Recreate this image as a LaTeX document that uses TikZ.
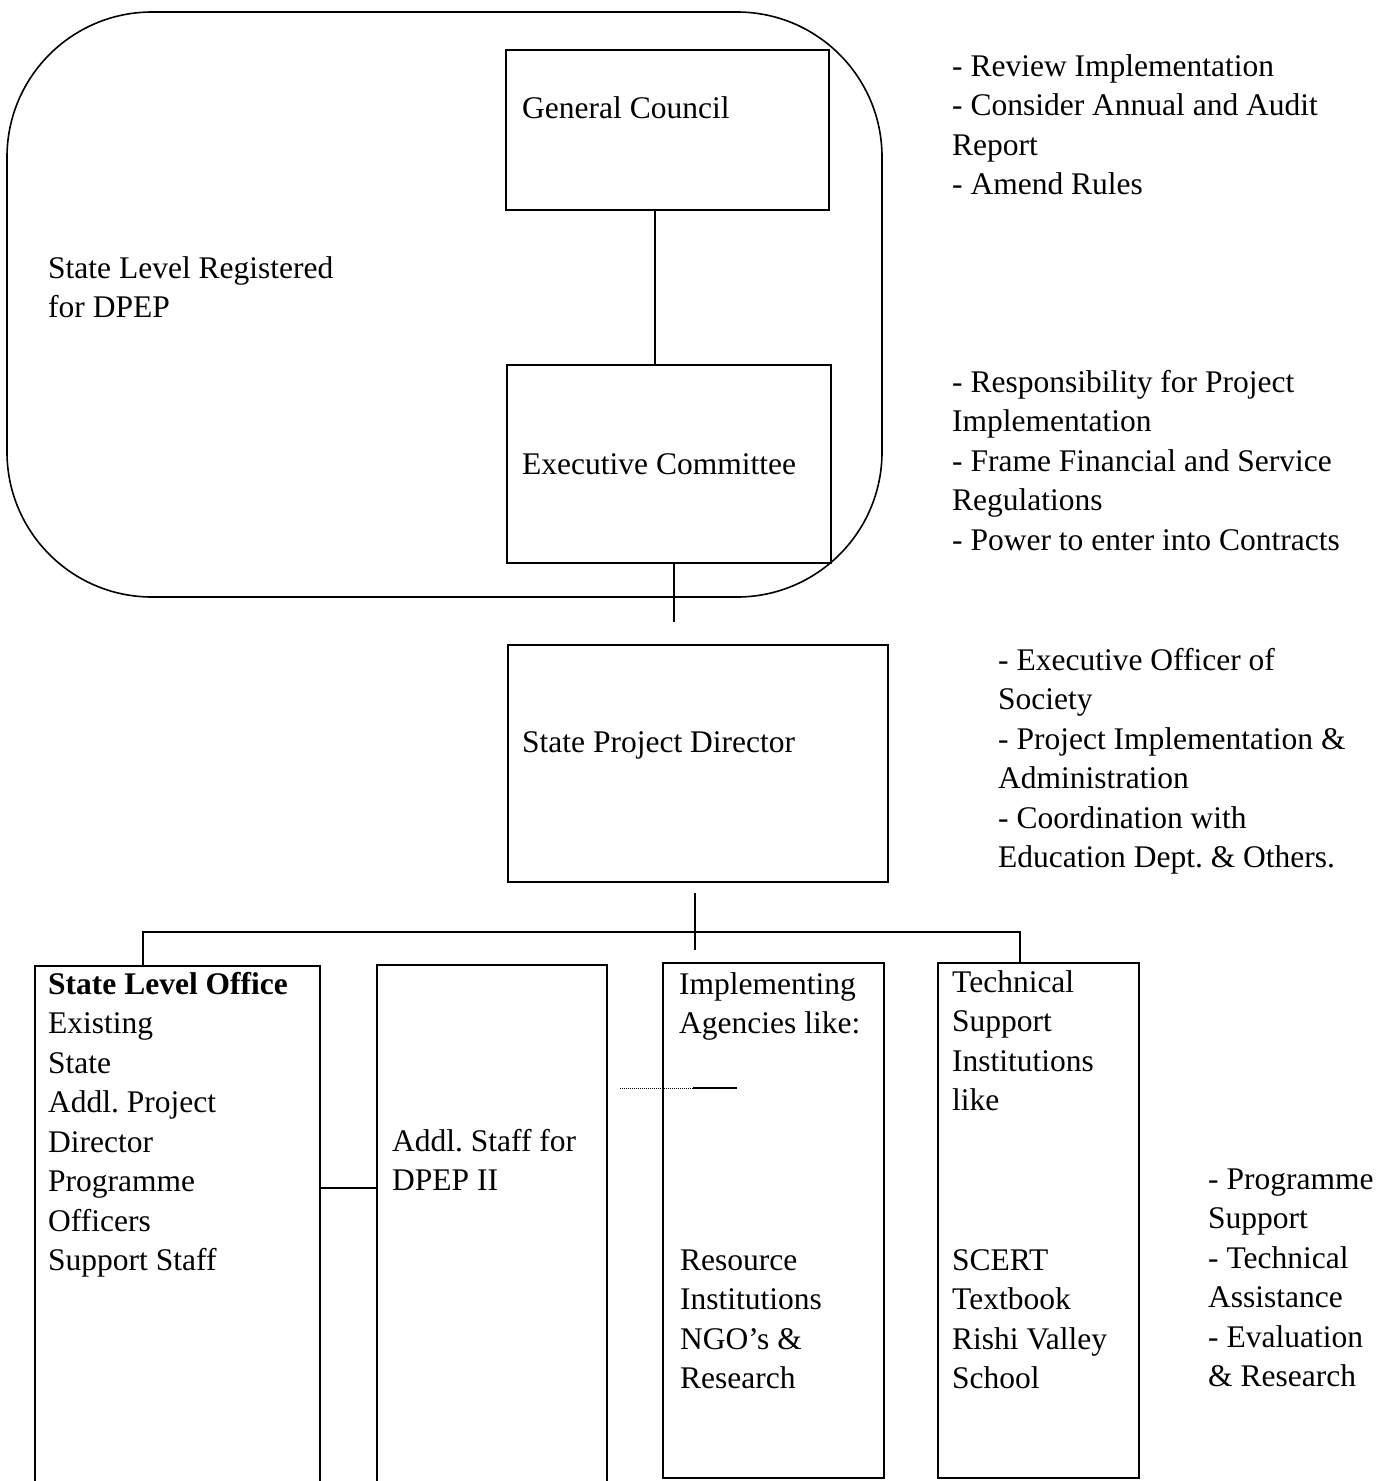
\documentclass[tikz,border=0pt]{standalone}
\usepackage{fontspec}
\setmainfont{Liberation Serif}
\newcommand{\mlines}[1]{\begin{tabular}[t]{@{}l@{}}#1\end{tabular}}
\frenchspacing
\begin{document}
\begin{tikzpicture}[x=1pt,y=-1pt,
  every node/.style={font=\fontsize{31.5}{39.5}\selectfont\frenchspacing},
  box/.style={draw,line width=1.6pt,rectangle,inner sep=0pt},
  txt/.style={anchor=base west,inner sep=0pt},
  conn/.style={line width=1.8pt}]
\useasboundingbox (0,0) rectangle (1394,1481);

% society outline
\node[draw,line width=1.6pt,rounded corners=145pt,inner sep=0pt,
      minimum width=875pt,minimum height=585pt] (soc) at (444.5,304.5) {};

% boxes
\node[box,minimum width=323pt,minimum height=160pt] (gc)  at (667.5,130) {};
\node[box,minimum width=324pt,minimum height=198pt] (ec)  at (669,464) {};
\node[box,minimum width=380pt,minimum height=237pt] (spd) at (698,763.5) {};
\node[box,minimum width=285pt,minimum height=520pt] (b1)  at (177.5,1226) {};
\node[box,minimum width=230pt,minimum height=521pt] (b2)  at (492,1225.5) {};
\node[box,minimum width=221pt,minimum height=515pt] (b3)  at (773.5,1220.5) {};
\node[box,minimum width=201pt,minimum height=515pt] (b4)  at (1038.5,1220.5) {};

% texts
\node[txt] (tgc) at (522,118) {General Council};
\node[txt] (tslr) at (48,278) {\mlines{State Level Registered\\for DPEP}};
\node[txt] (tec) at (522,474) {Executive Committee};
\node[txt] (tspd) at (522,752) {State Project Director};
\node[txt] (r1) at (952,76) {\mlines{- Review Implementation\\- Consider Annual and Audit\\Report\\- Amend Rules}};
\node[txt] (r2) at (952,392) {\mlines{- Responsibility for Project\\Implementation\\- Frame Financial and Service\\Regulations\\- Power to enter into Contracts}};
\node[txt] (r3) at (998,670) {\mlines{- Executive Officer of\\Society\\- Project Implementation \&\\Administration\\- Coordination with\\Education Dept. \& Others.}};
\node[txt] (tb1) at (48,994) {\mlines{\textbf{State Level Office}\\Existing\\State\\Addl. Project\\Director\\Programme\\Officers\\Support Staff}};
\node[txt] (tb2) at (392,1151) {\mlines{Addl. Staff for\\DPEP II}};
\node[txt] (tb3a) at (679,994) {\mlines{Implementing\\Agencies like:}};
\node[txt] (tb3b) at (680,1270) {\mlines{Resource\\Institutions\\NGO's \&\\Research}};
\node[txt] (tb4a) at (952,992) {\mlines{Technical\\Support\\Institutions\\like}};
\node[txt] (tb4b) at (952,1270) {\mlines{SCERT\\Textbook\\Rishi Valley\\School}};
\node[txt] (r4) at (1208,1189) {\mlines{- Programme\\Support\\- Technical\\Assistance\\- Evaluation\\\& Research}};

% connectors
\coordinate (ecend) at (674,622);
\coordinate (spdstart) at (695,893);
\coordinate (j) at (695,932);
\coordinate (jend) at (695,950);
\coordinate (d1) at (143,932);
\coordinate (d4) at (1020,932);
\draw[conn] ([xshift=-12.5pt]gc.south) -- ([xshift=-12.5pt]gc.south |- ec.north);
\draw[conn] ([xshift=5pt]ec.south) -- (ecend);
\draw[conn] (spdstart) -- (jend);
\draw[conn] (b1.north -| d1) -- (d1) -- (d4) -- (b4.north -| d4);
\draw[conn] (b1.east |- 0,1188) -- (b2.west |- 0,1188);
\coordinate (s1) at (620,1088);
\coordinate (s2) at (693,1088);
\coordinate (s3) at (737,1088);
\draw[line width=1pt,densely dotted] (s1) -- (s2);
\draw[line width=1.2pt] (s2) -- (s3);
\end{tikzpicture}
\end{document}
